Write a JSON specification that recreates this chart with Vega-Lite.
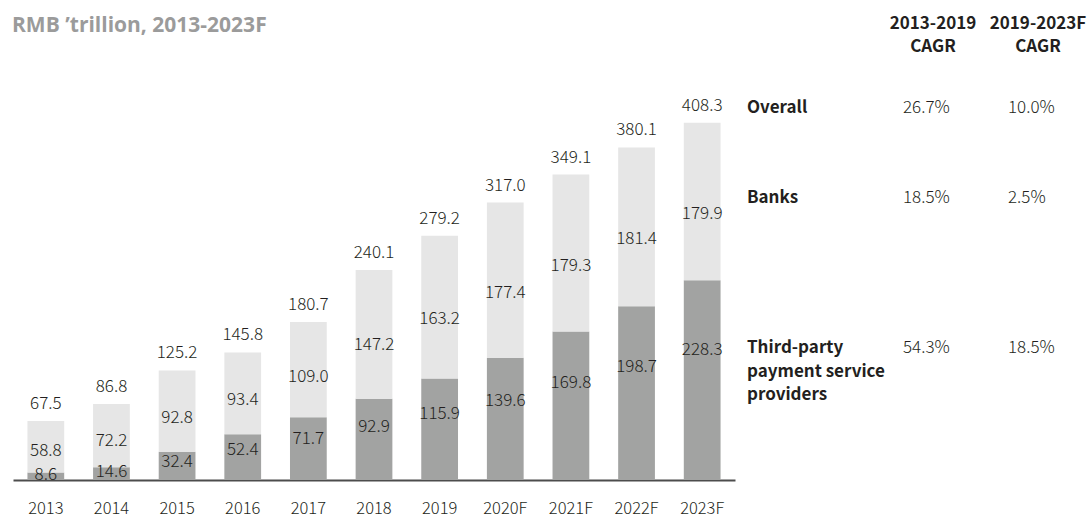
{
  "$schema": "https://vega.github.io/schema/vega-lite/v6.json",
  "autosize": {"type": "none"},
  "padding": {"left": 13, "top": 0, "right": 0, "bottom": 37},
  "width": 1079,
  "height": 480,
  "background": "white",
  "config": {"view": {"stroke": null}, "font": "Noto Sans CJK SC"},
  "title": {
    "text": "RMB ’trillion, 2013-2023F",
    "anchor": "start",
    "frame": "group",
    "baseline": "alphabetic",
    "offset": -53,
    "dx": -1,
    "font": "Open Sans",
    "fontSize": 21,
    "fontWeight": "bold",
    "color": "#9b9b9b"
  },
  "datasets": {
    "segments": [
      {"year": "2013", "series": "Third-party payment service providers", "value": 8.6},
      {"year": "2013", "series": "Banks", "value": 58.8},
      {"year": "2014", "series": "Third-party payment service providers", "value": 14.6},
      {"year": "2014", "series": "Banks", "value": 72.2},
      {"year": "2015", "series": "Third-party payment service providers", "value": 32.4},
      {"year": "2015", "series": "Banks", "value": 92.8},
      {"year": "2016", "series": "Third-party payment service providers", "value": 52.4},
      {"year": "2016", "series": "Banks", "value": 93.4},
      {"year": "2017", "series": "Third-party payment service providers", "value": 71.7},
      {"year": "2017", "series": "Banks", "value": 109.0},
      {"year": "2018", "series": "Third-party payment service providers", "value": 92.9},
      {"year": "2018", "series": "Banks", "value": 147.2},
      {"year": "2019", "series": "Third-party payment service providers", "value": 115.9},
      {"year": "2019", "series": "Banks", "value": 163.2},
      {"year": "2020F", "series": "Third-party payment service providers", "value": 139.6},
      {"year": "2020F", "series": "Banks", "value": 177.4},
      {"year": "2021F", "series": "Third-party payment service providers", "value": 169.8},
      {"year": "2021F", "series": "Banks", "value": 179.3},
      {"year": "2022F", "series": "Third-party payment service providers", "value": 198.7},
      {"year": "2022F", "series": "Banks", "value": 181.4},
      {"year": "2023F", "series": "Third-party payment service providers", "value": 228.3},
      {"year": "2023F", "series": "Banks", "value": 179.9}
    ],
    "totals": [
      {"year": "2013", "total": 67.5},
      {"year": "2014", "total": 86.8},
      {"year": "2015", "total": 125.2},
      {"year": "2016", "total": 145.8},
      {"year": "2017", "total": 180.7},
      {"year": "2018", "total": 240.1},
      {"year": "2019", "total": 279.2},
      {"year": "2020F", "total": 317.0},
      {"year": "2021F", "total": 349.1},
      {"year": "2022F", "total": 380.1},
      {"year": "2023F", "total": 408.3}
    ],
    "table": [
      {"kind": "header", "row": "h", "col": "c1", "text": "2013-2019\nCAGR"},
      {"kind": "header", "row": "h", "col": "c2", "text": "2019-2023F\nCAGR"},
      {"kind": "label", "row": "Overall", "col": "label", "text": "Overall"},
      {"kind": "label", "row": "Banks", "col": "label", "text": "Banks"},
      {"kind": "label", "row": "Third-party", "col": "label", "text": "Third-party\npayment service\nproviders"},
      {"kind": "value", "row": "Overall", "col": "c1", "v": 0.267},
      {"kind": "value", "row": "Overall", "col": "c2", "v": 0.100},
      {"kind": "value", "row": "Banks", "col": "c1", "v": 0.185},
      {"kind": "value", "row": "Banks", "col": "c2", "v": 0.025},
      {"kind": "value", "row": "Third-party", "col": "c1", "v": 0.543},
      {"kind": "value", "row": "Third-party", "col": "c2", "v": 0.185}
    ]
  },
  "layer": [
    {
      "layer": [
        {
          "data": {"name": "segments"},
          "transform": [
            {"stack": "value", "groupby": ["year"], "sort": [{"field": "series", "order": "descending"}], "as": ["y0", "y1"]},
            {"calculate": "datum.series === 'Banks' ? datum.y0 + 0.42 * (datum.y1 - datum.y0) : datum.y0 + 0.65 * (datum.y1 - datum.y0)", "as": "ly"}
          ],
          "encoding": {
            "x": {
              "field": "year",
              "type": "ordinal",
              "scale": {"range": [0, 722], "paddingInner": 0.44, "paddingOuter": 0.22},
              "axis": {
                "title": null,
                "domainColor": "#4d4d4d",
                "domainWidth": 2,
                "ticks": false,
                "tickSize": 0,
                "labelPadding": 20,
                "labelAngle": 0,
                "labelFont": "Noto Sans CJK SC",
                "labelFontWeight": 300,
                "labelFontSize": 16.5,
                "labelColor": "#231f20",
                "grid": false
              }
            }
          },
          "layer": [
            {
              "mark": {"type": "bar"},
              "encoding": {
                "y": {"field": "y0", "type": "quantitative", "scale": {"domain": [0, 548.57], "nice": false}, "axis": null},
                "y2": {"field": "y1"},
                "color": {
                  "field": "series",
                  "type": "nominal",
                  "scale": {"domain": ["Banks", "Third-party payment service providers"], "range": ["#e6e6e6", "#a2a3a2"]},
                  "legend": null
                }
              }
            },
            {
              "mark": {"type": "text", "baseline": "middle", "fontSize": 17, "fontWeight": 300, "color": "#231f20", "font": "Noto Sans CJK SC"},
              "encoding": {
                "y": {"field": "ly", "type": "quantitative"},
                "text": {"field": "value", "type": "quantitative", "format": ".1f"}
              }
            }
          ]
        },
        {
          "data": {"name": "totals"},
          "mark": {"type": "text", "baseline": "middle", "dy": -17, "fontSize": 17, "fontWeight": 300, "color": "#231f20", "font": "Noto Sans CJK SC"},
          "encoding": {
            "x": {"field": "year", "type": "ordinal"},
            "y": {"field": "total", "type": "quantitative"},
            "text": {"field": "total", "type": "quantitative", "format": ".1f"}
          }
        }
      ]
    },
    {
      "data": {"name": "table"},
      "encoding": {
        "x": {"field": "col", "type": "nominal", "scale": {"type": "point", "domain": ["label", "c1", "c2"], "range": [813, 1023], "padding": 0}, "axis": null},
        "y": {"field": "row", "type": "nominal", "scale": {"type": "point", "domain": ["h", "s1", "s2", "Overall", "s3", "s4", "Banks", "s5", "s6", "s7", "s8", "Third-party"], "range": [17, 347], "padding": 0}, "axis": null}
      },
      "layer": [
        {
          "transform": [{"filter": "datum.kind === 'header'"}],
          "mark": {"type": "text", "align": "center", "baseline": "alphabetic", "dx": 2, "dy": 12, "lineBreak": "\n", "lineHeight": 23, "fontSize": 17, "fontWeight": "bold", "color": "#231f20", "font": "Noto Sans CJK SC"},
          "encoding": {"text": {"field": "text"}}
        },
        {
          "transform": [{"filter": "datum.kind === 'label'"}],
          "mark": {"type": "text", "align": "left", "baseline": "alphabetic", "dx": -79, "dy": 6, "lineBreak": "\n", "lineHeight": 23.5, "fontSize": 17, "fontWeight": "bold", "color": "#231f20", "font": "Noto Sans CJK SC"},
          "encoding": {"text": {"field": "text"}}
        },
        {
          "transform": [{"filter": "datum.kind === 'value'"}],
          "mark": {"type": "text", "align": "left", "baseline": "alphabetic", "dx": -28, "dy": 6, "fontSize": 17, "fontWeight": 300, "color": "#231f20", "font": "Noto Sans CJK SC"},
          "encoding": {"text": {"field": "v", "type": "quantitative", "format": ".1%"}}
        }
      ]
    }
  ],
  "resolve": {"scale": {"x": "independent", "y": "independent"}}
}
